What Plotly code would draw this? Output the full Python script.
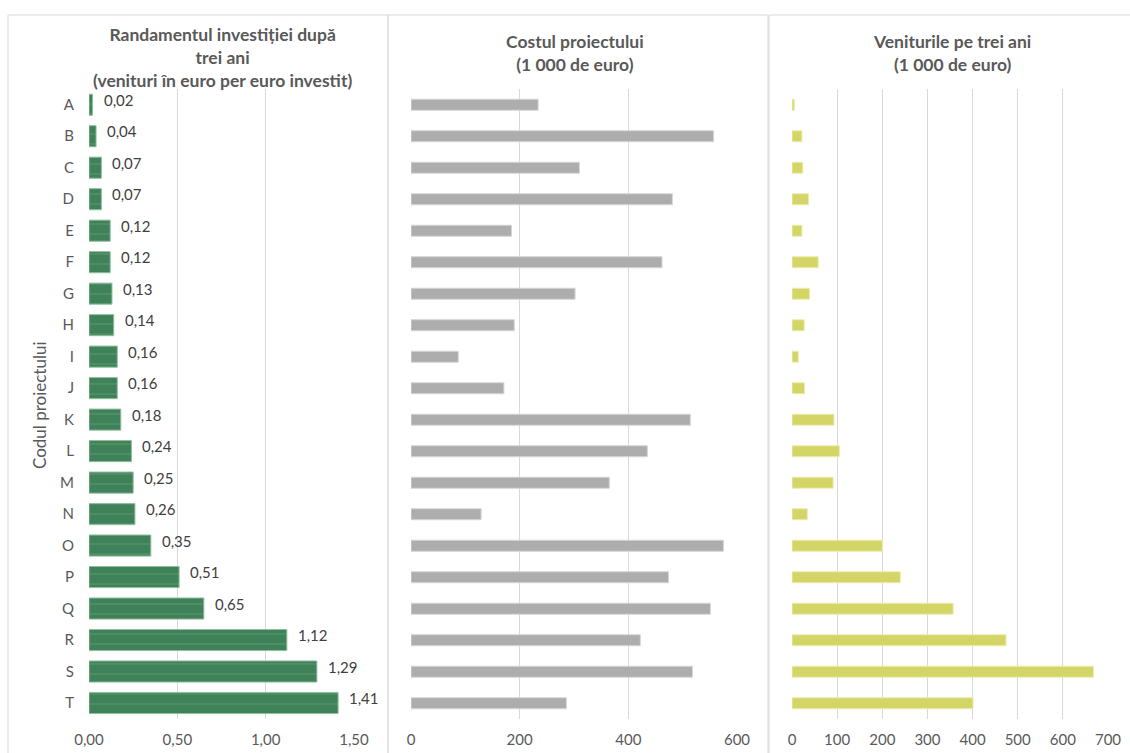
import plotly.graph_objects as go

# Project codes and the three measures per project
projects = ["A", "B", "C", "D", "E", "F", "G", "H", "I", "J",
            "K", "L", "M", "N", "O", "P", "Q", "R", "S", "T"]
roi = [0.02, 0.04, 0.07, 0.07, 0.12, 0.12, 0.13, 0.14, 0.16, 0.16,
       0.18, 0.24, 0.25, 0.26, 0.35, 0.51, 0.65, 1.12, 1.29, 1.41]
cost = [234, 557, 310, 481, 185, 462, 302, 190, 87, 171,
        514, 435, 365, 129, 575, 474, 551, 422, 518, 286]
revenue = [5, 22, 24, 37, 22, 58, 39, 27, 14, 28,
           93, 105, 91, 34, 200, 240, 357, 474, 668, 401]

W, H = 1130, 753
FONT = "Lato, 'Open Sans', sans-serif"
GRID = "#d9d9d9"
TXT = "#595959"


def px(x):
    return x / W


def py(y):
    return 1 - y / H


y_dom = [py(719), py(89)]

fig = go.Figure()

fig.add_trace(go.Bar(
    x=roi, y=projects, orientation="h", xaxis="x", yaxis="y",
    marker=dict(color="#3f8158", line=dict(color="#8fbf9c", width=1),
                pattern=dict(shape="-", size=10, solidity=0.08,
                             fgcolor="#8fbf9c", bgcolor="#3f8158")),
    showlegend=False, hoverinfo="x+y"))
fig.add_trace(go.Bar(
    x=cost, y=projects, orientation="h", xaxis="x2", yaxis="y2",
    marker=dict(color="#adadad", line=dict(color="#d6d6d6", width=1)),
    width=0.35, showlegend=False))
fig.add_trace(go.Bar(
    x=revenue, y=projects, orientation="h", xaxis="x3", yaxis="y3",
    marker=dict(color="#d4d567", line=dict(color="#ecedb0", width=1)),
    width=0.35, showlegend=False))

axis_common = dict(showgrid=True, gridcolor=GRID, gridwidth=1, zeroline=False,
                   showline=False, ticks="", ticklabelstandoff=10,
                   automargin=False,
                   tickfont=dict(family=FONT, size=15, color=TXT))

fig.update_layout(
    width=W, height=H,
    margin=dict(l=0, r=0, t=0, b=0, autoexpand=False),
    paper_bgcolor="white", plot_bgcolor="white",
    font=dict(family=FONT, color=TXT),
    bargap=0.33,
    separators=", ",
    xaxis=dict(domain=[px(89), px(354)], range=[0, 1.5], dtick=0.5,
               tickformat=".2f", **axis_common),
    xaxis2=dict(domain=[px(411), px(737)], range=[0, 600], dtick=200,
                **axis_common),
    xaxis3=dict(domain=[px(792), px(1108)], range=[0, 700], dtick=100,
                **axis_common),
    yaxis=dict(domain=y_dom, anchor="x", autorange="reversed",
               showgrid=False, ticks="", ticklabelstandoff=14,
               automargin=False,
               tickfont=dict(family=FONT, size=15, color=TXT)),
    yaxis2=dict(domain=y_dom, anchor="x2", autorange="reversed",
                showticklabels=False, showgrid=False, automargin=False),
    yaxis3=dict(domain=y_dom, anchor="x3", autorange="reversed",
                showticklabels=False, showgrid=False, automargin=False),
)

# Value labels for the return-on-investment bars
for p, v in zip(projects, roi):
    fig.add_annotation(x=v, y=p, xref="x", yref="y",
                       text=f"{v:.2f}".replace(".", ","),
                       showarrow=False, xanchor="left", xshift=9, yshift=5,
                       font=dict(family=FONT, size=15, color="#404040"))

# Panel titles: (text, centre x, top y)
titles = [
    ("Randamentul investiției după<br>trei ani<br>(venituri în euro per euro investit)", 222, 22),
    ("Costul proiectului<br>(1 000 de euro)", 575, 29),
    ("Veniturile pe trei ani<br>(1 000 de euro)", 952, 29),
]
for text, cx, ty in titles:
    fig.add_annotation(x=px(cx), y=py(ty), xref="paper", yref="paper",
                       text=f"<b>{text}</b>", showarrow=False,
                       xanchor="center", yanchor="top",
                       font=dict(family=FONT, size=17.5, color=TXT))

fig.add_annotation(x=px(42), y=py(405), xref="paper", yref="paper",
                   text="Codul proiectului", textangle=-90, showarrow=False,
                   xanchor="center", yanchor="middle", xshift=-3,
                   font=dict(family=FONT, size=17, color=TXT))

# Panel frames
for x0, x1 in [(8, 388), (388, 768), (769, 1131)]:
    fig.add_shape(type="rect", xref="paper", yref="paper",
                  x0=px(x0), x1=px(x1), y0=-0.02, y1=py(15),
                  line=dict(color=GRID, width=1), layer="below")

fig.write_html("out.html")
